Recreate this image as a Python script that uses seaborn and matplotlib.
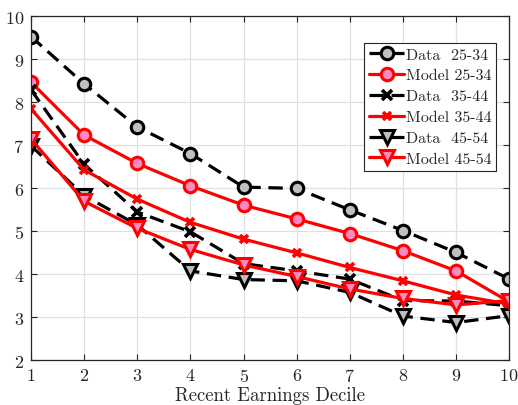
import matplotlib
matplotlib.use("Agg")
import matplotlib.pyplot as plt
import seaborn as sns
import pandas as pd

deciles = [1, 2, 3, 4, 5, 6, 7, 8, 9, 10]
data_25_34 = [9.53, 8.43, 7.43, 6.81, 6.03, 6.0, 5.5, 5.02, 4.51, 3.89]
model_25_34 = [8.47, 7.24, 6.58, 6.06, 5.61, 5.29, 4.95, 4.55, 4.08, 3.36]
data_35_44 = [8.29, 6.56, 5.45, 4.99, 4.25, 4.08, 3.89, 3.39, 3.38, 3.27]
model_35_44 = [7.85, 6.43, 5.75, 5.21, 4.82, 4.5, 4.16, 3.85, 3.52, 3.31]
data_45_54 = [6.99, 5.83, 5.15, 4.08, 3.88, 3.85, 3.58, 3.03, 2.88, 3.04]
model_45_54 = [7.15, 5.7, 5.07, 4.58, 4.22, 3.95, 3.66, 3.44, 3.29, 3.39]

labels = ["Data  25-34", "Model 25-34", "Data  35-44", "Model 35-44", "Data  45-54", "Model 45-54"]
series = [data_25_34, model_25_34, data_35_44, model_35_44, data_45_54, model_45_54]

sns.set_theme(style="whitegrid")
plt.rcParams["font.family"] = ["cmr10", "DejaVu Serif"]
plt.rcParams["axes.formatter.use_mathtext"] = True
plt.rcParams["mathtext.fontset"] = "cm"

fig = plt.figure(figsize=(5.18, 4.06), dpi=100)
ax = fig.add_axes([0.06, 0.11, 0.923, 0.847])

gray_fill = "#bfbfbf"
pink_fill = "#ff88c0"
dash = (0, (4.5, 2.4))
styles = [
    dict(color="black", marker="o", mfc=gray_fill, mec="black", ls=dash, ms=9, mew=2.2),
    dict(color="red", marker="o", mfc=pink_fill, mec="red", ls="-", ms=9, mew=2.2),
    dict(color="black", marker="x", mfc="black", mec="black", ls=dash, ms=7, mew=2.6),
    dict(color="red", marker="x", mfc="red", mec="red", ls="-", ms=6, mew=2.6),
    dict(color="black", marker="v", mfc=gray_fill, mec="black", ls=dash, ms=10, mew=2.2),
    dict(color="red", marker="v", mfc=pink_fill, mec="red", ls="-", ms=10, mew=2.2),
]

for lab, vals, st in zip(labels, series, styles):
    df = pd.DataFrame({"decile": deciles, "value": vals})
    sns.lineplot(data=df, x="decile", y="value", ax=ax, color=st["color"],
                 marker=st["marker"], markersize=st["ms"], markerfacecolor=st["mfc"],
                 markeredgecolor=st["mec"], markeredgewidth=st["mew"],
                 linestyle=st["ls"], linewidth=2.3, label=lab)

ax.set_xlim(1, 10)
ax.set_ylim(2, 10)
ax.set_xticks(deciles)
ax.set_yticks([2, 3, 4, 5, 6, 7, 8, 9, 10])
ax.set_xlabel("Recent Earnings Decile", fontsize=13.5, color="#262626", labelpad=1)
ax.set_ylabel("")
ax.set_facecolor("white")
ax.grid(True, color="#e0e0e0", linewidth=0.9)
for sp in ax.spines.values():
    sp.set_visible(True)
    sp.set_color("#262626")
    sp.set_linewidth(0.9)
ax.tick_params(axis="both", which="both", direction="in", length=4, width=0.8,
               top=True, right=True, bottom=True, left=True,
               labelsize=13, labelcolor="#262626", color="#262626", pad=5)

leg = ax.legend(loc="upper right", bbox_to_anchor=(0.973, 0.924), fontsize=11.5,
                frameon=True, fancybox=False, framealpha=1, edgecolor="#262626",
                handlelength=2.2, handletextpad=0.1, borderpad=0.3, labelspacing=0.42,
                borderaxespad=0.0)
leg.get_frame().set_linewidth(0.8)

fig.savefig("out.png", dpi=100)
